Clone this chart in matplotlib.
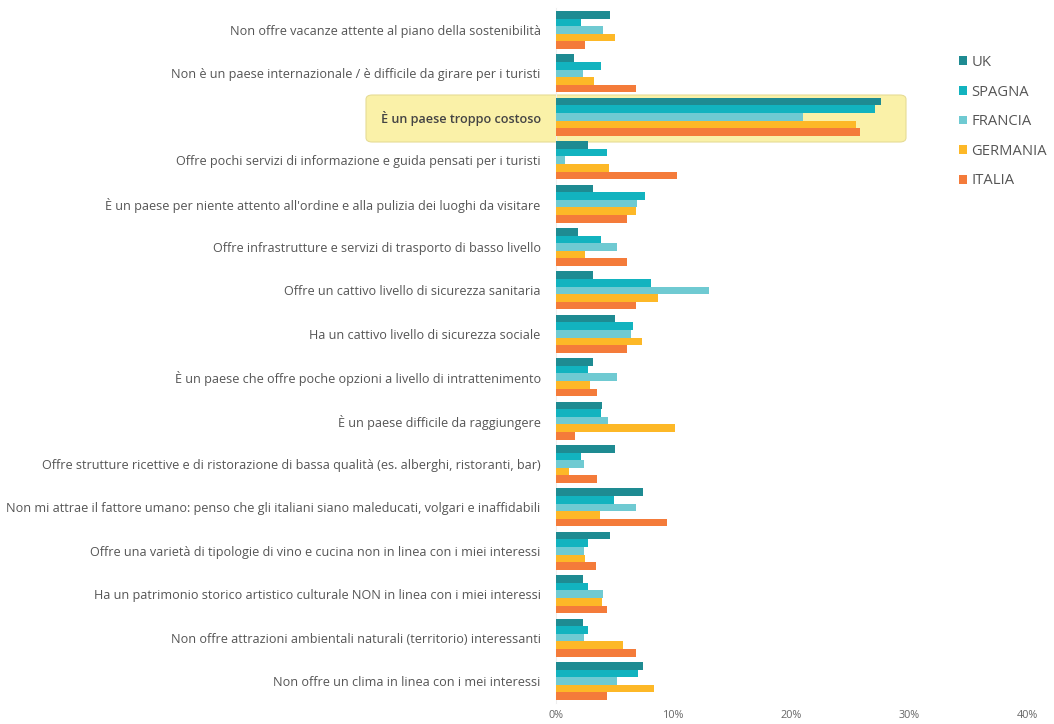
import matplotlib.pyplot as plt
import numpy as np
from matplotlib.patches import FancyBboxPatch

categories = [
    "Non offre vacanze attente al piano della sostenibilità",
    "Non è un paese internazionale / è difficile da girare per i turisti",
    "È un paese troppo costoso",
    "Offre pochi servizi di informazione e guida pensati per i turisti",
    "È un paese per niente attento all'ordine e alla pulizia dei luoghi da visitare",
    "Offre infrastrutture e servizi di trasporto di basso livello",
    "Offre un cattivo livello di sicurezza sanitaria",
    "Ha un cattivo livello di sicurezza sociale",
    "È un paese che offre poche opzioni a livello di intrattenimento",
    "È un paese difficile da raggiungere",
    "Offre strutture ricettive e di ristorazione di bassa qualità (es. alberghi, ristoranti, bar)",
    "Non mi attrae il fattore umano: penso che gli italiani siano maleducati, volgari e inaffidabili",
    "Offre una varietà di tipologie di vino e cucina non in linea con i miei interessi",
    "Ha un patrimonio storico artistico culturale NON in linea con i miei interessi",
    "Non offre attrazioni ambientali naturali (territorio) interessanti",
    "Non offre un clima in linea con i mei interessi",
]

series_names = ["UK", "SPAGNA", "FRANCIA", "GERMANIA", "ITALIA"]

uk = [4.6, 1.5, 27.6, 2.7, 3.1, 1.9, 3.1, 5.0, 3.1, 3.9, 5.0, 7.4, 4.6, 2.3, 2.3, 7.4]
spagna = [2.1, 3.8, 27.1, 4.3, 7.6, 3.8, 8.1, 6.5, 2.7, 3.8, 2.1, 4.9, 2.7, 2.7, 2.7, 7.0]
francia = [4.0, 2.3, 21.0, 0.8, 6.9, 5.2, 13.0, 6.4, 5.2, 4.4, 2.4, 6.8, 2.4, 4.0, 2.4, 5.2]
germania = [5.0, 3.2, 25.5, 4.5, 6.8, 2.5, 8.7, 7.3, 2.9, 10.1, 1.1, 3.7, 2.5, 3.9, 5.7, 8.3]
italia = [2.5, 6.8, 25.8, 10.3, 6.0, 6.0, 6.8, 6.0, 3.5, 1.6, 3.5, 9.4, 3.4, 4.3, 6.8, 4.3]

colors = ["#1e8b92", "#12b3bf", "#6fcad2", "#fdb827", "#f47b3a"]
highlight = 2

plt.rcParams["font.family"] = ["Open Sans", "DejaVu Sans"]

fig = plt.figure(figsize=(10.54, 7.24), dpi=100)
W, H = 1054, 724
ax = fig.add_axes([556 / W, 21.3 / H, (1027 - 556) / W, 694.4 / H])

y = np.arange(len(categories))
bar_h = 0.175
for j, vals in enumerate([uk, spagna, francia, germania, italia]):
    ax.barh(y + (j - 2) * bar_h, vals, height=bar_h, color=colors[j],
            label=series_names[j], zorder=3)

ax.set_ylim(len(categories) - 0.5, -0.5)
ax.set_xlim(0, 40)
ax.set_yticks(y)
ax.set_yticklabels(categories, fontsize=9.05, color="#555555")
ax.set_xticks([0, 10, 20, 30, 40])
ax.set_xticklabels(["0%", "10%", "20%", "30%", "40%"], fontsize=7.8, color="#666666")
ax.tick_params(axis="y", length=0, pad=11)
ax.tick_params(axis="x", length=0, pad=5)
for s in ["top", "right", "bottom"]:
    ax.spines[s].set_visible(False)
ax.spines["left"].set_color("#eeeeee")
ax.spines["left"].set_zorder(1)

# highlighted category box
box = FancyBboxPatch((366 / W, 1 - 142 / H), 540 / W, 47 / H,
                     boxstyle="round,pad=0,rounding_size=0.006",
                     transform=fig.transFigure, facecolor="#faf1a8",
                     edgecolor="#e6dc96", linewidth=0.8, zorder=0.5,
                     clip_on=False)
ax.add_patch(box)
lbl = ax.get_yticklabels()[highlight]
lbl.set_color("#444444")
lbl.set_fontweight("semibold")

leg = ax.legend(loc="upper left", bbox_to_anchor=(959 / W, 1 - 55 / H),
                bbox_transform=fig.transFigure, frameon=False, fontsize=10.6,
                handlelength=0.55, handleheight=0.55, handletextpad=0.3,
                labelspacing=0.99, borderaxespad=0, borderpad=0)
for t in leg.get_texts():
    t.set_color("#555555")

fig.savefig("out.png", dpi=100)
